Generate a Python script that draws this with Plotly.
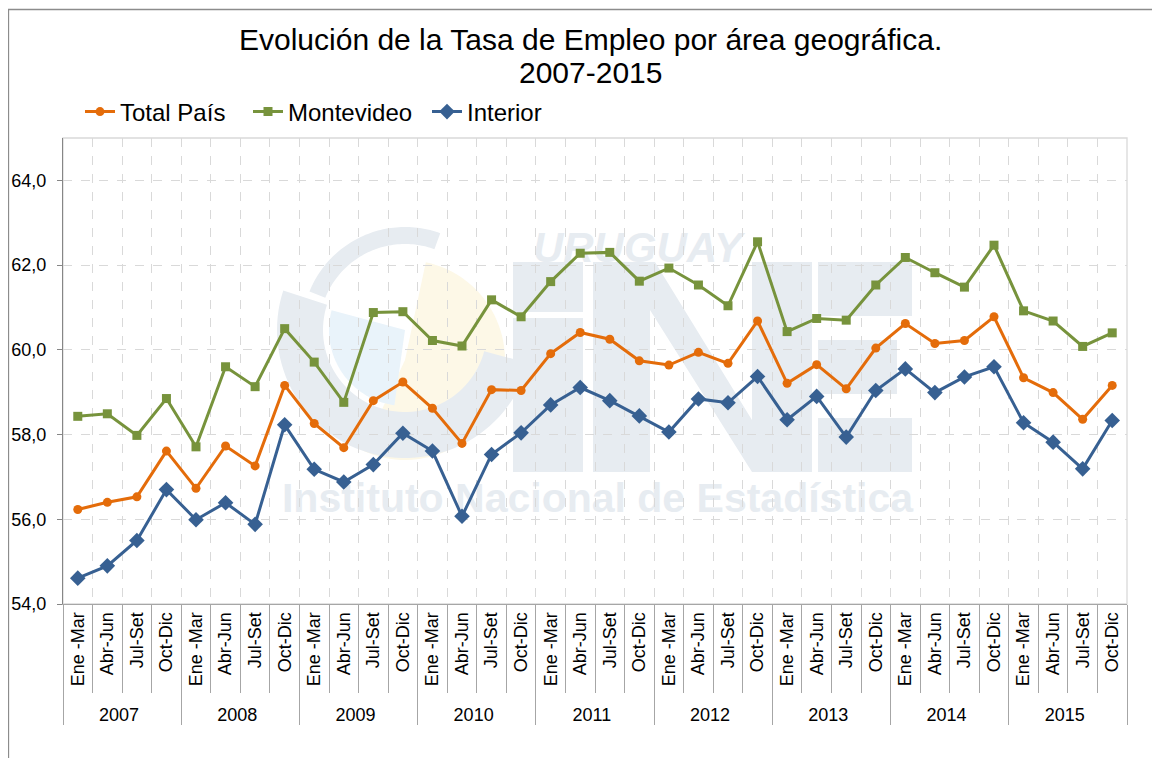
import math
import plotly.graph_objects as go

# ---------------- data ----------------
years = ["2007", "2008", "2009", "2010", "2011", "2012", "2013", "2014", "2015"]
quarters = ["Ene -Mar", "Abr-Jun", "Jul-Set", "Oct-Dic"]

total_pais = [56.23, 56.40, 56.53, 57.61, 56.73, 57.73, 57.26, 59.16,
              58.26, 57.69, 58.80, 59.24, 58.62, 57.79, 59.06, 59.04,
              59.91, 60.41, 60.25, 59.74, 59.64, 59.94, 59.68, 60.68,
              59.21, 59.65, 59.08, 60.04, 60.62, 60.15, 60.22, 60.78,
              59.34, 58.99, 58.36, 59.16]
montevideo = [58.43, 58.49, 57.98, 58.85, 57.71, 59.60, 59.13, 60.50,
              59.71, 58.76, 60.88, 60.90, 60.22, 60.09, 61.18, 60.78,
              61.61, 62.28, 62.30, 61.62, 61.93, 61.53, 61.04, 62.55,
              60.43, 60.74, 60.70, 61.53, 62.18, 61.82, 61.48, 62.47,
              60.92, 60.68, 60.08, 60.40]
interior = [54.61, 54.90, 55.50, 56.70, 55.99, 56.39, 55.88, 58.23,
            57.18, 56.88, 57.29, 58.03, 57.61, 56.07, 57.53, 58.04,
            58.70, 59.11, 58.80, 58.44, 58.06, 58.84, 58.75, 59.37,
            58.35, 58.90, 57.94, 59.04, 59.55, 58.99, 59.36, 59.60,
            58.28, 57.82, 57.19, 58.33]

title_line1 = "Evolución de la Tasa de Empleo por área geográfica."
title_line2 = "2007-2015"
wm_top = "URUGUAY"
wm_bottom = "Instituto Nacional de Estadística"

# ---------------- layout geometry ----------------
# the page body has an 8px margin, so the figure is sized to fit the window
OFF = 8
W, H = 1160 - OFF, 758 - OFF
L, R, T, B = 63 - OFF, 1160 - 1127, 138 - OFF, 758 - 604
PW, PH = W - L - R, H - T - B

def px(sx):
    """screen x (pixels) -> paper x"""
    return (sx - OFF - L) / PW

def py(sy):
    """screen y (pixels) -> paper y"""
    return (H - B - (sy - OFF)) / PH

FONT = "Liberation Sans, Arial, sans-serif"
C_TOTAL = "#E46C0A"
C_MVD = "#77933C"
C_INT = "#376092"
WM = "#E7ECF1"
WM_BLUE = "#E9F3FA"
WM_YEL = "#FDF8E7"

x_cat = [[y for y in years for _ in quarters], [q for _ in years for q in quarters]]

fig = go.Figure()
fig.add_trace(go.Scatter(x=x_cat, y=total_pais, name="Total País", mode="lines+markers",
                         line=dict(color=C_TOTAL, width=3), legend="legend",
                         marker=dict(symbol="circle", size=9, color=C_TOTAL)))
fig.add_trace(go.Scatter(x=x_cat, y=montevideo, name="Montevideo", mode="lines+markers",
                         line=dict(color=C_MVD, width=3), legend="legend2",
                         marker=dict(symbol="square", size=9, color=C_MVD)))
fig.add_trace(go.Scatter(x=x_cat, y=interior, name="Interior", mode="lines+markers",
                         line=dict(color=C_INT, width=3), legend="legend3",
                         marker=dict(symbol="diamond", size=12, color=C_INT)))

shapes = []
# outer chart border
shapes.append(dict(type="rect", xref="paper", yref="paper", x0=px(8.5), x1=px(1200),
                   y0=py(9.5), y1=py(800), line=dict(color="#8C8C8C", width=1.3),
                   fillcolor="rgba(0,0,0,0)", layer="below"))
# plot area frame
shapes.append(dict(type="rect", xref="paper", yref="paper", x0=0, x1=1, y0=0, y1=1,
                   line=dict(color="#D9D9D9", width=1.3), layer="below"))

# ---- watermark (INE logo), drawn beneath the grid ----
def rect(x0, y0, x1, y1, color):
    return dict(type="rect", xref="paper", yref="paper", x0=px(x0), x1=px(x1),
                y0=py(y1), y1=py(y0), line=dict(width=0), fillcolor=color, layer="below")

def poly(points, color):
    d = "M " + " L ".join(f"{px(a):.5f},{py(b):.5f}" for a, b in points) + " Z"
    return dict(type="path", xref="paper", yref="paper", path=d, line=dict(width=0),
                fillcolor=color, layer="below")

def ring(cx, cy, r_in, r_out, a0, a1, color, n=60):
    pts = []
    for k in range(n + 1):
        a = math.radians(a0 + (a1 - a0) * k / n)
        pts.append((cx + r_out * math.cos(a), cy + r_out * math.sin(a)))
    for k in range(n + 1):
        a = math.radians(a1 + (a0 - a1) * k / n)
        pts.append((cx + r_in * math.cos(a), cy + r_in * math.sin(a)))
    return poly(pts, color)

CX, CY = 405, 330
shapes += [
    ring(CX, 360, 0, 100, -78, 115, WM_YEL),
    ring(CX, CY, 0, 76, 98, 195, WM_BLUE),
    ring(CX, CY, 86, 103, 202, 290, WM),
    ring(CX, CY, 82, 128, 15, 198, WM),
    rect(513, 262, 583, 312, WM),
    rect(513, 318, 583, 472, WM),
    poly([(593, 262), (655, 262), (752, 420), (752, 262), (812, 262), (812, 472),
          (752, 472), (650, 310), (650, 472), (593, 472)], WM),
    rect(818, 262, 912, 316, WM),
    rect(818, 340, 897, 394, WM),
    rect(818, 418, 912, 472, WM),
]
# watermark texts as shape labels so they stay beneath the data
for txt, x0, x1, yc, size in [(f"<b><i>{wm_top}</i></b>", 505, 770, 243, 42),
                              (f"<b>{wm_bottom}</b>", 270, 925, 494, 41)]:
    shapes.append(dict(type="rect", xref="paper", yref="paper",
                       x0=px(x0), x1=px(x1), y0=py(yc + 25), y1=py(yc - 25),
                       line=dict(width=0), fillcolor="rgba(0,0,0,0)", layer="below",
                       label=dict(text=txt, textposition="middle center",
                                  font=dict(family=FONT, size=size, color=WM))))
fig.update_layout(shapes=shapes)

annotations = [
    dict(text=title_line1, x=px(590), y=py(39), xref="paper", yref="paper",
         xanchor="center", yanchor="middle", showarrow=False,
         font=dict(family=FONT, size=30, color="#000000")),
    dict(text=title_line2, x=px(590), y=py(73), xref="paper", yref="paper",
         xanchor="center", yanchor="middle", showarrow=False,
         font=dict(family=FONT, size=30, color="#000000")),
]

def legend_at(sx):
    return dict(orientation="h", x=px(sx), xanchor="left", y=py(112), yanchor="middle",
                font=dict(family=FONT, size=24, color="#000000"),
                itemwidth=30, bgcolor="rgba(0,0,0,0)")

fig.update_layout(
    width=W, height=H,
    margin=dict(l=L, r=R, t=T, b=B, pad=0),
    paper_bgcolor="white", plot_bgcolor="rgba(0,0,0,0)",
    separators=",.",
    font=dict(family=FONT, color="#000000"),
    legend=legend_at(80), legend2=legend_at(248), legend3=legend_at(427),
    showlegend=True,
    xaxis=dict(type="multicategory", tickangle=-90, tickfont=dict(family=FONT, size=18),
               showdividers=True, dividercolor="#A6A6A6", dividerwidth=1,
               ticks="outside", ticklen=88, tickcolor="#A6A6A6", tickwidth=1,
               tickson="boundaries", automargin=False,
               showgrid=True, gridcolor="#D9D9D9", griddash="dash", gridwidth=1,
               showline=True, linecolor="#A6A6A6", linewidth=1.3,
               range=[-0.5, 35.5]),
    yaxis=dict(range=[54, 65], dtick=2, tick0=54, tickformat=".1f",
               tickfont=dict(family=FONT, size=18), automargin=False,
               ticks="outside", ticklen=5, tickcolor="#868686",
               showgrid=True, gridcolor="#D9D9D9", griddash="dash", gridwidth=1,
               showline=True, linecolor="#868686", linewidth=1.3, zeroline=False,
               ticklabelstandoff=7),
    annotations=annotations,
)

fig.write_html("out.html")
